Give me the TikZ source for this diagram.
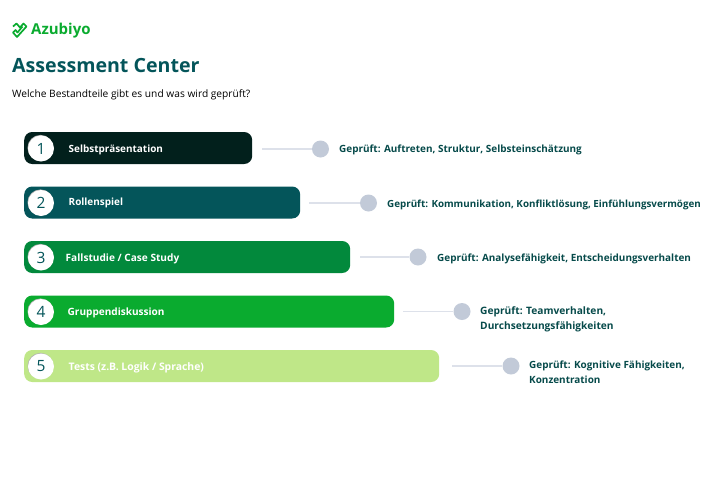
\documentclass[tikz,border=0pt]{standalone}
\usepackage{fontspec}
\setmainfont{Open Sans}
\definecolor{azgreen}{HTML}{0AAB2F}
\definecolor{azteal}{HTML}{04555A}
\definecolor{azdark}{HTML}{02201C}
\definecolor{azforest}{HTML}{02893C}
\definecolor{azlime}{HTML}{BFE788}
\definecolor{azdot}{HTML}{C2CAD8}
\definecolor{azline}{HTML}{DDE1EA}
\definecolor{azcheck}{HTML}{064A4A}
\begin{document}
\begin{tikzpicture}
[x=1pt,y=-1pt,
  bardecorate/.style={shape=rectangle,rounded corners=8pt,inner sep=0pt,minimum height=32pt,anchor=west},%
  numdecorate/.style={shape=circle,fill=white,inner sep=0pt,minimum size=26pt,text=azteal,font=\fontsize{15.5}{17}\selectfont,
    preaction={fill=gray!60,transform canvas={xshift=-.5pt,yshift=.6pt}}},%
  titledecorate/.style={anchor=west,inner sep=0pt,text=white,font=\fontsize{9.95}{12}\selectfont\bfseries},%
  dotdecorate/.style={shape=circle,fill=azdot,inner sep=0pt,minimum size=17pt},%
  linedecorate/.style={draw=azline,line width=1.6pt},%
  checkdecorate/.style={anchor=west,inner sep=0pt,align=left,text=azcheck,font=\fontsize{9.95}{15}\selectfont\bfseries}]
\useasboundingbox (0,0) rectangle (721,480);
% logo and headings
\draw[azgreen,line width=1.7pt,line join=round]
(13,26.5) -- (16.5,23.5) -- (20,27.5) -- (23.5,23.5) -- (26.5,26.5) -- (17,37) -- (13,32.5) -- (15.5,30) -- (17.5,32.5) -- (22.5,26.5);
\node (logo) at (31,30.5) [anchor=west,inner sep=0pt,text=azgreen,font=\fontsize{15}{16}\selectfont\bfseries] {Azubiyo};
\node (title) at (12,65.5) [anchor=west,inner sep=0pt,text=azteal,font=\fontsize{19.6}{22}\selectfont\bfseries] {Assessment Center};
\node (subtitle) at (12,94.5) [anchor=west,inner sep=0pt,font=\fontsize{10.2}{12}\selectfont] {Welche Bestandteile gibt es und was wird geprüft?};
% bars
\node (bar1) at (24,148) [bardecorate,fill=azdark,minimum width=228pt] {};
\node (bar2) at (24,202.5) [bardecorate,fill=azteal,minimum width=276pt] {};
\node (bar3) at (24,257) [bardecorate,fill=azforest,minimum width=326pt] {};
\node (bar4) at (24,311.5) [bardecorate,fill=azgreen,minimum width=370pt] {};
\node (bar5) at (24,366) [bardecorate,fill=azlime,minimum width=415pt] {};
% numbers
\node (num1) at (41,148.5) [numdecorate] {1};
\node (num2) at (41,203) [numdecorate] {2};
\node (num3) at (41,257.5) [numdecorate] {3};
\node (num4) at (41,312) [numdecorate] {4};
\node (num5) at (41,366.5) [numdecorate] {5};
% bar titles
\node (title1) at (68.5,149.5) [titledecorate] {Selbstpräsentation};
\node (title2) at (68.5,202.5) [titledecorate] {Rollenspiel};
\node (title3) at (65.5,258.5) [titledecorate,font=\fontsize{10.1}{12}\selectfont\bfseries] {Fallstudie / Case Study};
\node (title4) at (67.5,313) [titledecorate,font=\fontsize{10.05}{12}\selectfont\bfseries] {Gruppendiskussion};
\node (title5) at (68.5,367.5) [titledecorate,font=\fontsize{10.4}{12}\selectfont\bfseries] {Tests (z.B. Logik / Sprache)};
% dots and line starts
\coordinate (start1) at (262,149);
\node (dot1) at (320.5,149) [dotdecorate] {};
\coordinate (start2) at (309,203);
\node (dot2) at (368.5,203) [dotdecorate] {};
\coordinate (start3) at (360,257);
\node (dot3) at (418,257) [dotdecorate] {};
\coordinate (start4) at (403,311.5);
\node (dot4) at (462,311.5) [dotdecorate] {};
\coordinate (start5) at (452,366);
\node (dot5) at (511,366) [dotdecorate] {};
% checks
\node (check1) at (339,149.5) [checkdecorate] {Geprüft: Auftreten, Struktur, Selbsteinschätzung};
\node (check2) at (387,204.5) [checkdecorate,font=\fontsize{9.82}{15}\selectfont\bfseries] {Geprüft: Kommunikation, Konfliktlösung, Einfühlungsvermögen};
\node (check3) at (437,258.5) [checkdecorate] {Geprüft: Analysefähigkeit, Entscheidungsverhalten};
\node (check4) at (480,319) [checkdecorate,font=\fontsize{10.2}{15}\selectfont\bfseries] {Geprüft: Teamverhalten,\\Durchsetzungsfähigkeiten};
\node (check5) at (529,372.5) [checkdecorate] {Geprüft: Kognitive Fähigkeiten,\\Konzentration};
% connector lines
\path
(start1) edge[linedecorate] (dot1)
(start2) edge[linedecorate] (dot2)
(start3) edge[linedecorate] (dot3)
(start4) edge[linedecorate] (dot4)
(start5) edge[linedecorate] (dot5);
\end{tikzpicture}
\end{document}
